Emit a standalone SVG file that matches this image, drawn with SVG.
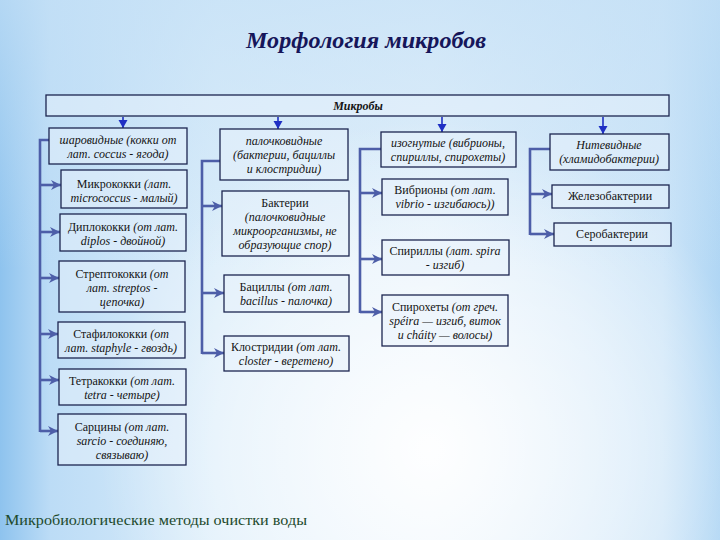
<svg xmlns="http://www.w3.org/2000/svg" width="720" height="540" viewBox="0 0 720 540" font-family="'Liberation Serif', 'DejaVu Serif', serif">
<defs>
<linearGradient id="bgH" x1="0" y1="0" x2="1" y2="0">
<stop offset="0" stop-color="#8ec3ee"/>
<stop offset="0.07" stop-color="#bcdcf6"/>
<stop offset="0.3" stop-color="#dbedfa"/>
<stop offset="0.6" stop-color="#e4f1fb"/>
<stop offset="0.92" stop-color="#cde5f8"/>
<stop offset="1" stop-color="#b0d6f4"/>
</linearGradient>
<radialGradient id="bgGlow" cx="430" cy="450" r="330" gradientUnits="userSpaceOnUse">
<stop offset="0" stop-color="#ffffff" stop-opacity="0.95"/>
<stop offset="0.6" stop-color="#ffffff" stop-opacity="0.45"/>
<stop offset="1" stop-color="#ffffff" stop-opacity="0"/>
</radialGradient>
<linearGradient id="bgV" x1="0" y1="0" x2="0" y2="1">
<stop offset="0" stop-color="#c4e0f6" stop-opacity="0.7"/>
<stop offset="0.5" stop-color="#c4e0f6" stop-opacity="0"/>
</linearGradient>
<marker id="ah" markerUnits="userSpaceOnUse" markerWidth="12" markerHeight="12" refX="10" refY="6" orient="auto">
<path d="M0,1 L10,6 L0,11 L3,6 Z" fill="#4d5ea8"/>
</marker>
<marker id="ahTop" markerUnits="userSpaceOnUse" markerWidth="10" markerHeight="10" refX="8" refY="5" orient="auto">
<path d="M0,0.5 L8,5 L0,9.5 Z" fill="#1f2fc4"/>
</marker>
</defs>
<style>
.box{fill:#e8f2fc;fill-opacity:0.5;stroke:#1c2550;stroke-width:1.3}
.t{font-size:12px;fill:#141414;text-anchor:middle}
.i{font-style:italic}
.br{fill:none;stroke:#4d5ea8;stroke-width:2.6}
.ar{fill:none;stroke:#4d5ea8;stroke-width:2.6;marker-end:url(#ah)}
.top{fill:none;stroke:#1f2fc4;stroke-width:1.6;marker-end:url(#ahTop)}
</style>
<rect x="0" y="0" width="720" height="540" fill="url(#bgH)"/>
<rect x="0" y="0" width="720" height="540" fill="url(#bgV)"/>
<rect x="0" y="0" width="720" height="540" fill="url(#bgGlow)"/>

<text x="366" y="48" font-size="23" font-weight="bold" font-style="italic" fill="#16165a" text-anchor="middle" textLength="240" lengthAdjust="spacingAndGlyphs">Морфология микробов</text>

<g id="connectors">
<line class="top" x1="123" y1="117" x2="123" y2="128"/>
<line class="top" x1="278" y1="117" x2="278" y2="129"/>
<line class="top" x1="442" y1="117" x2="442" y2="132"/>
<line class="top" x1="603" y1="117" x2="603" y2="134"/>
<path class="br" d="M49,140 H40 V432"/>
<line class="ar" x1="40" y1="185" x2="61" y2="185"/>
<line class="ar" x1="40" y1="232" x2="60" y2="232"/>
<line class="ar" x1="40" y1="278" x2="59" y2="278"/>
<line class="ar" x1="40" y1="334" x2="58" y2="334"/>
<line class="ar" x1="40" y1="380" x2="59" y2="380"/>
<line class="ar" x1="40" y1="431" x2="58" y2="431"/>
<path class="br" d="M220,161 H202 V354"/>
<line class="ar" x1="202" y1="206" x2="222" y2="206"/>
<line class="ar" x1="202" y1="293" x2="224" y2="293"/>
<line class="ar" x1="202" y1="353" x2="224" y2="353"/>
<path class="br" d="M381,149 H360 V313"/>
<line class="ar" x1="360" y1="193" x2="382" y2="193"/>
<line class="ar" x1="360" y1="259" x2="382" y2="259"/>
<line class="ar" x1="360" y1="312" x2="382" y2="312"/>
<path class="br" d="M550,149 H530 V235"/>
<line class="ar" x1="530" y1="194" x2="552" y2="194"/>
<line class="ar" x1="530" y1="234" x2="554" y2="234"/>
</g>

<g id="microbes">
<rect class="box" x="46" y="95" width="623" height="21"/>
<text class="t i" x="358" y="110" font-size="11" font-weight="bold">Микробы</text>
</g>

<g id="cocci">
<rect class="box" x="49" y="128" width="138" height="36"/>
<text class="t i"><tspan x="118" y="144">шаровидные (кокки от</tspan><tspan x="118" y="158">лат. coccus - ягода)</tspan></text>
</g>
<g id="micrococci">
<rect class="box" x="61" y="170" width="126" height="38"/>
<text class="t"><tspan x="124" y="188">Микрококки <tspan class="i">(лат.</tspan></tspan><tspan class="i" x="124" y="202">micrococcus - малый)</tspan></text>
</g>
<g id="diplococci">
<rect class="box" x="60" y="214" width="126" height="37"/>
<text class="t"><tspan x="123" y="231">Диплококки <tspan class="i">(от лат.</tspan></tspan><tspan class="i" x="123" y="245">diplos - двойной)</tspan></text>
</g>
<g id="streptococci">
<rect class="box" x="59" y="261" width="126" height="51"/>
<text class="t"><tspan x="122" y="278">Стрептококки <tspan class="i">(от</tspan></tspan><tspan class="i" x="122" y="292">лат. streptos -</tspan><tspan class="i" x="122" y="306">цепочка)</tspan></text>
</g>
<g id="staphylococci">
<rect class="box" x="58" y="322" width="127" height="36"/>
<text class="t"><tspan x="121" y="338">Стафилококки <tspan class="i">(от</tspan></tspan><tspan class="i" x="121" y="352">лат. staphyle - гвоздь)</tspan></text>
</g>
<g id="tetracocci">
<rect class="box" x="59" y="369" width="127" height="36"/>
<text class="t"><tspan x="122" y="385">Тетракокки <tspan class="i">(от лат.</tspan></tspan><tspan class="i" x="122" y="399">tetra - четыре)</tspan></text>
</g>
<g id="sarcina">
<rect class="box" x="58" y="414" width="128" height="51"/>
<text class="t"><tspan x="122" y="431">Сарцины <tspan class="i">(от лат.</tspan></tspan><tspan class="i" x="122" y="445">sarcio - соединяю,</tspan><tspan class="i" x="122" y="459">связываю)</tspan></text>
</g>

<g id="rods">
<rect class="box" x="220" y="129" width="128" height="51"/>
<text class="t i"><tspan x="284" y="145">палочковидные</tspan><tspan x="284" y="159">(бактерии, бациллы</tspan><tspan x="284" y="173">и клостридии)</tspan></text>
</g>
<g id="bacteria">
<rect class="box" x="222" y="191" width="127" height="65"/>
<text class="t"><tspan x="285" y="207">Бактерии</tspan><tspan class="i" x="285" y="221">(палочковидные</tspan><tspan class="i" x="285" y="235">микроорганизмы, не</tspan><tspan class="i" x="285" y="249">образующие спор)</tspan></text>
</g>
<g id="bacilli">
<rect class="box" x="224" y="275" width="125" height="37"/>
<text class="t"><tspan x="286" y="291">Бациллы <tspan class="i">(от лат.</tspan></tspan><tspan class="i" x="286" y="305">bacillus - палочка)</tspan></text>
</g>
<g id="clostridia">
<rect class="box" x="224" y="336" width="125" height="35"/>
<text class="t"><tspan x="286" y="351">Клостридии <tspan class="i">(от лат.</tspan></tspan><tspan class="i" x="286" y="365">closter - веретено)</tspan></text>
</g>

<g id="curved">
<rect class="box" x="381" y="132" width="135" height="35"/>
<text class="t i"><tspan x="448" y="147">изогнутые (вибрионы,</tspan><tspan x="448" y="161">спириллы, спирохеты)</tspan></text>
</g>
<g id="vibrio">
<rect class="box" x="382" y="179" width="126" height="36"/>
<text class="t"><tspan x="445" y="194">Вибрионы <tspan class="i">(от лат.</tspan></tspan><tspan class="i" x="445" y="208">vibrio - изгибаюсь))</tspan></text>
</g>
<g id="spirilla">
<rect class="box" x="382" y="240" width="127" height="35"/>
<text class="t"><tspan x="445" y="255">Спириллы <tspan class="i">(лат. spira</tspan></tspan><tspan class="i" x="445" y="269">- изгиб)</tspan></text>
</g>
<g id="spirochetes">
<rect class="box" x="382" y="295" width="126" height="51"/>
<text class="t"><tspan x="445" y="311">Спирохеты <tspan class="i">(от греч.</tspan></tspan><tspan class="i" x="445" y="325">spéira — изгиб, виток</tspan><tspan class="i" x="445" y="339">и cháity — волосы)</tspan></text>
</g>

<g id="filamentous">
<rect class="box" x="550" y="134" width="119" height="36"/>
<text class="t i"><tspan x="609" y="149">Нитевидные</tspan><tspan x="609" y="163">(хламидобактерии)</tspan></text>
</g>
<g id="iron">
<rect class="box" x="552" y="185" width="117" height="23"/>
<text class="t" x="610" y="200">Железобактерии</text>
</g>
<g id="sulfur">
<rect class="box" x="554" y="223" width="117" height="23"/>
<text class="t" x="612" y="238">Серобактерии</text>
</g>

<text x="5" y="525" font-size="15" fill="#1d4a2c" textLength="302" lengthAdjust="spacingAndGlyphs">Микробиологические методы очистки воды</text>
</svg>
